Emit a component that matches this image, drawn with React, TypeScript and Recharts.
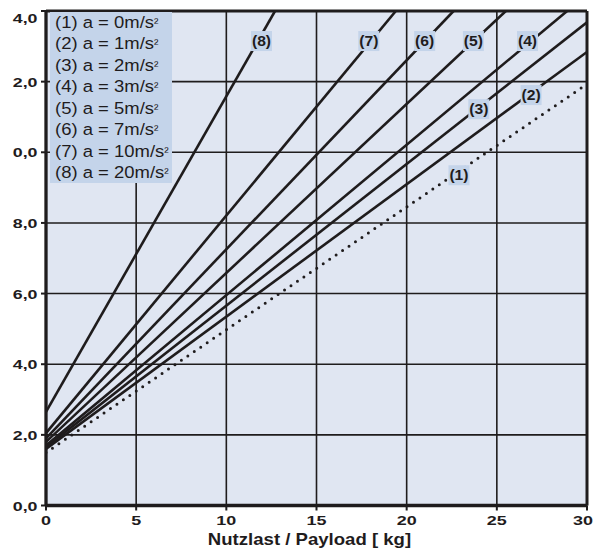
import React from 'react';
import {
  ComposedChart,
  Line,
  XAxis,
  YAxis,
  CartesianGrid,
  Scatter,
  Legend,
  ReferenceLine,
} from 'recharts';

const xTicks = [0, 5, 10, 15, 20, 25, 30];
const yTicks = [0, 2, 4, 6, 8, 10, 12, 14];
const yTickLabels = ['0,0', '2,0', '4,0', '6,0', '8,0', '0,0', '2,0', '4,0'];
const xAxisTitle = 'Nutzlast / Payload [ kg]';

const legendLabels = [
  '(1) a = 0m/s²',
  '(2) a = 1m/s²',
  '(3) a = 2m/s²',
  '(4) a = 3m/s²',
  '(5) a = 5m/s²',
  '(6) a = 7m/s²',
  '(7) a = 10m/s²',
  '(8) a = 20m/s²',
];

const curveLabels = ['(1)', '(2)', '(3)', '(4)', '(5)', '(6)', '(7)', '(8)'];
const curveLabelX = [22.9, 26.9, 24.0, 26.7, 23.7, 21.0, 17.9, 11.95];
const curveLabelY = [9.35, 11.62, 11.22, 13.15, 13.15, 13.15, 13.15, 13.15];

const line1 = [{ x: 0, y: 1.5 }, { x: 30, y: 11.93 }];
const line2 = [{ x: 0, y: 1.6 }, { x: 30, y: 12.84 }];
const line3 = [{ x: 0, y: 1.65 }, { x: 30, y: 13.68 }];
const line4 = [{ x: 0, y: 1.7 }, { x: 28.9, y: 14 }];
const line5 = [{ x: 0, y: 1.8 }, { x: 25.5, y: 14 }];
const line6 = [{ x: 0, y: 1.9 }, { x: 22.6, y: 14 }];
const line7 = [{ x: 0, y: 2.05 }, { x: 19.4, y: 14 }];
const line8 = [{ x: 0, y: 2.65 }, { x: 12.7, y: 14 }];

const solidLines = [line2, line3, line4, line5, line6, line7, line8];

const labelData = curveLabels.map((t, i) => ({ x: curveLabelX[i], y: curveLabelY[i], text: t }));

const INK = '#1f1c1d';
const PLOT_BG = '#e0e6f2';
const BOX_BG = '#c4d4ea';
const FONT = '"Liberation Sans", Arial, Helvetica, sans-serif';

const YTick = (props: any) => {
  const { x, y, payload, index } = props;
  const idx = yTicks.indexOf(payload.value);
  const label = yTickLabels[idx >= 0 ? idx : index];
  const dy = payload.value === 14 ? 11.7 : 5;
  return (
    <g transform={`translate(${x - 1.5},${y + dy})`}>
      <text
        transform="scale(1.32,1)"
        textAnchor="end"
        fontFamily={FONT}
        fontWeight="bold"
        fontSize={13.5}
        fill={INK}
      >
        {label}
      </text>
    </g>
  );
};

const XTick = (props: any) => {
  const { x, y, payload } = props;
  const dx = payload.value === 30 ? -4 : 0;
  return (
    <g transform={`translate(${x + dx},${y + 12.5})`}>
      <text
        transform="scale(1.33,1)"
        textAnchor="middle"
        fontFamily={FONT}
        fontWeight="bold"
        fontSize={13.5}
        fill={INK}
      >
        {payload.value}
      </text>
    </g>
  );
};

const XTitle = (props: any) => {
  const vb = props.viewBox || { x: 46, y: 505, width: 541, height: 30 };
  const cx = vb.x + vb.width / 2 - 7;
  const by = vb.y + 39.5;
  return (
    <g transform={`translate(${cx},${by})`}>
      <text
        transform="scale(1.14,1)"
        textAnchor="middle"
        fontFamily={FONT}
        fontWeight="bold"
        fontSize={16.3}
        fill={INK}
      >
        {xAxisTitle}
      </text>
    </g>
  );
};

const LabelShape = (props: any) => {
  const { cx, cy, payload } = props;
  if (cx == null || cy == null) return null;
  return (
    <g>
      <rect x={cx - 10.5} y={cy - 10} width={21} height={20} fill={BOX_BG} />
      <g transform={`translate(${cx},${cy + 5})`}>
        <text
          transform="scale(1.12,1)"
          textAnchor="middle"
          fontFamily={FONT}
          fontWeight="bold"
          fontSize={14}
          fill={INK}
        >
          {payload.text}
        </text>
      </g>
    </g>
  );
};

const LegendBox = () => (
  <div
    style={{
      width: 122,
      height: 171,
      background: BOX_BG,
      paddingLeft: 5,
      boxSizing: 'border-box',
      fontFamily: FONT,
      fontSize: 16.8,
      color: INK,
      lineHeight: '21.43px',
      textAlign: 'left',
    }}
  >
    {legendLabels.map((l) => {
      const parts = l.split('²');
      return (
        <div key={l} style={{ height: 21.43, whiteSpace: 'nowrap' }}>
          <span style={{ display: 'inline-block', transform: 'scaleX(1.1)', transformOrigin: 'left center' }}>
            {parts[0]}
            <span style={{ fontSize: 12, position: 'relative', top: -1 }}>²</span>
          </span>
        </div>
      );
    })}
  </div>
);

export default function App() {
  return (
    <div style={{ position: 'absolute', left: 0, top: 0, width: 595, height: 554, background: '#fff' }}>
      <ComposedChart
        width={595}
        height={554}
        margin={{ top: 11, right: 8, left: 6, bottom: 18.5 }}
      >
        <CartesianGrid stroke={INK} strokeWidth={1.6} fill={PLOT_BG} fillOpacity={1} />
        <XAxis
          type="number"
          dataKey="x"
          domain={[0, 30]}
          ticks={xTicks}
          allowDataOverflow
          height={30}
          axisLine={{ stroke: INK, strokeWidth: 3.3 }}
          tickLine={{ stroke: INK, strokeWidth: 2 }}
          tickSize={5}
          tick={<XTick />}
          label={<XTitle />}
        />
        <YAxis
          type="number"
          dataKey="y"
          domain={[0, 14]}
          ticks={yTicks}
          allowDataOverflow
          width={40}
          axisLine={{ stroke: INK, strokeWidth: 3.3 }}
          tickLine={{ stroke: INK, strokeWidth: 2 }}
          tickSize={5}
          tick={<YTick />}
        />
        <ReferenceLine y={14} stroke={INK} strokeWidth={2.8} />
        <ReferenceLine x={30} stroke={INK} strokeWidth={3} />
        <Line
          data={line1}
          dataKey="y"
          type="linear"
          stroke={INK}
          strokeWidth={3}
          strokeDasharray="0 7.8"
          strokeLinecap="round"
          dot={false}
          activeDot={false}
          isAnimationActive={false}
        />
        {solidLines.map((d, i) => (
          <Line
            key={i}
            data={d}
            dataKey="y"
            type="linear"
            stroke={INK}
            strokeWidth={2.6}
            dot={false}
            activeDot={false}
            isAnimationActive={false}
          />
        ))}
        <Scatter data={labelData} dataKey="y" shape={<LabelShape />} isAnimationActive={false} />
        <Legend
          layout="vertical"
          align="center"
          verticalAlign="middle"
          content={<LegendBox />}
          wrapperStyle={{ position: 'absolute', left: 50, top: 12, width: 122, height: 171, margin: 0 }}
        />
      </ComposedChart>
    </div>
  );
}
